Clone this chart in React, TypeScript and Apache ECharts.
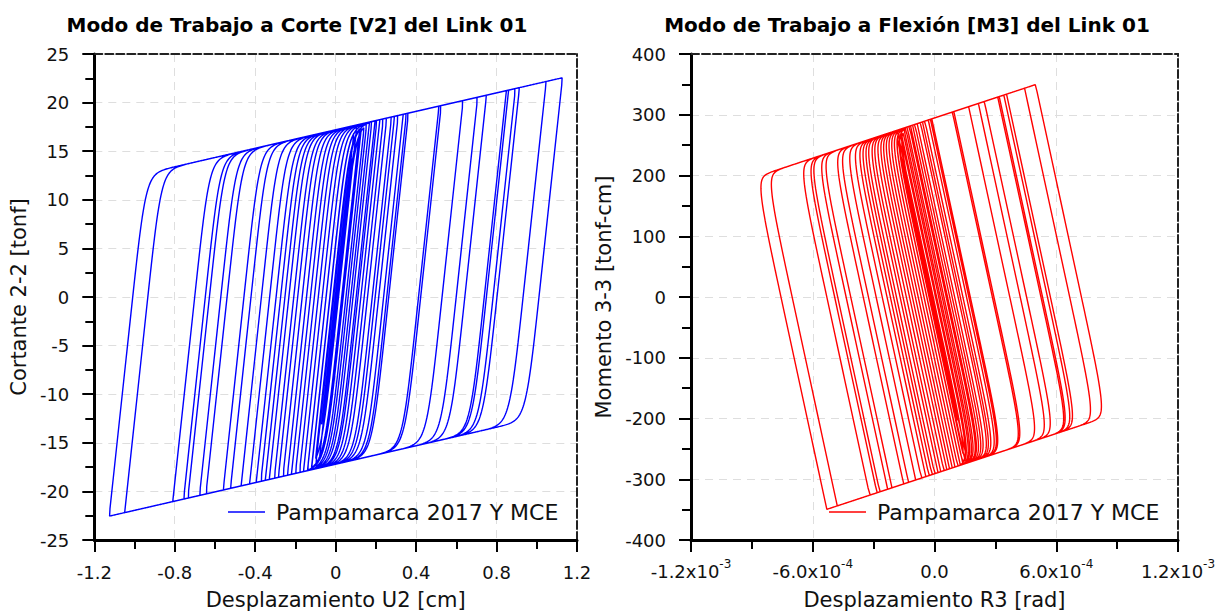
import React, { useEffect, useRef } from "react";
import * as echarts from "echarts";

// ---- Data (reversal points of the U2 history, cm) ----
// peaks (positive reversals) and valleys (negative reversals), in time order
const peakU = [
  0.068, 0.092, 0.118, 0.142, 0.168, 0.196, 0.22, 0.254, 0.293, 0.336, 0.362, 0.525,
  0.75, 0.914, 1.128, 1.047, 0.894, 0.86, 0.849, 0.706, 0.634, 0.514, 0.352, 0.311,
  0.278, 0.237, 0.205, 0.18, 0.155, 0.13, 0.105, 0.12, 0.09, 0.08, 0.06,
];
const valleyU = [
  -0.04, -0.06, -0.08, -0.1, -0.12, -0.14, -0.16, -0.2, -0.24, -0.285, -0.33, -0.395,
  -0.523, -0.81, -1.126, -1.049, -0.756, -0.735, -0.677, -0.645, -0.559, -0.47, -0.428,
  -0.372, -0.35, -0.305, -0.262, -0.22, -0.18, -0.14, -0.1, -0.12, -0.07, -0.05, -0.02,
];

// ---- Link properties ----
const SHEAR_YIELD = 17.2; // tonf (envelope intercept at U2 = 0)
const POST_YIELD_SLOPE = 4.75; // tonf/cm
const ELASTIC_SLOPE = 188; // tonf/cm
const SHARPNESS = 4;
const LINK_HALF_LENGTH = 15.5; // cm  (M3 = V2 * L/2)
const R3_PER_U2 = 7.33e-4; // rad/cm
const R3_PER_V2 = -1.383e-5; // rad/tonf
const R3_OFFSET = -1.7e-5; // rad

const SERIES_NAME = "Pampamarca 2017 Y MCE";
const leftXTicks = { min: -1.2, max: 1.2, interval: 0.4 };
const leftYTicks = { min: -25, max: 25, interval: 5 };
const rightXTicks = { min: -0.0012, max: 0.0012, interval: 0.0006 };
const rightYTicks = { min: -400, max: 400, interval: 100 };

const FONT = "DejaVu Sans";

function buildShearPath(): number[][] {
  const pts: number[][] = [[0, 0]];
  let u = 0;
  let z = 0;
  const targets: number[] = [];
  for (let i = 0; i < peakU.length; i++) {
    targets.push(peakU[i]);
    if (i < valleyU.length) targets.push(valleyU[i]);
  }
  for (const t of targets) {
    const dir = Math.sign(t - u);
    while (Math.abs(t - u) > 1e-9) {
      const du = dir * Math.min(0.004, Math.abs(t - u));
      const h = du / 8;
      for (let k = 0; k < 8; k++) {
        if (h * z > 0) {
          z += ELASTIC_SLOPE * (1 - Math.pow(Math.abs(z) / SHEAR_YIELD, SHARPNESS)) * h;
        } else {
          z += ELASTIC_SLOPE * h;
        }
        if (z > SHEAR_YIELD) z = SHEAR_YIELD;
        if (z < -SHEAR_YIELD) z = -SHEAR_YIELD;
      }
      u += du;
      pts.push([u, POST_YIELD_SLOPE * u + z]);
    }
  }
  return pts;
}

function makeOption(cfg: any) {
  const axisText = { fontFamily: FONT, fontSize: 18, color: "#111" };
  return {
    animation: false,
    title: {
      text: cfg.title,
      left: cfg.titleX,
      top: 15,
      padding: 0,
      textAlign: "center",
      textStyle: { fontFamily: FONT, fontSize: 20, fontWeight: "bold", color: "#000" },
    },
    legend: {
      data: [SERIES_NAME],
      left: cfg.legendX,
      top: 501,
      padding: 0,
      icon: "rect",
      itemWidth: 37,
      itemHeight: 1.6,
      textStyle: { fontFamily: FONT, fontSize: 22, color: "#111", padding: [0, 0, 0, 6] },
    },
    grid: { left: cfg.gridLeft, top: 54, width: 487, height: 487 },
    xAxis: [
      {
        type: "value",
        position: "bottom",
        min: cfg.xTicks.min,
        max: cfg.xTicks.max,
        interval: cfg.xTicks.interval,
        name: cfg.xName,
        nameLocation: "middle",
        nameGap: 49,
        nameTextStyle: { fontFamily: FONT, fontSize: 21, color: "#111" },
        axisLine: { show: true, onZero: false, lineStyle: { color: "#000", width: 3 } },
        axisTick: { show: true, length: 12, lineStyle: { color: "#000", width: 2 } },
        minorTick: { show: true, splitNumber: 2, length: 9, lineStyle: { color: "#000", width: 2 } },
        axisLabel: { ...axisText, margin: cfg.xLabelMargin, formatter: cfg.xFormatter, rich: cfg.xRich },
        splitLine: { show: true, lineStyle: { color: "#dedede", width: 1, type: [8, 6] } },
      },
      {
        type: "value",
        position: "top",
        min: cfg.xTicks.min,
        max: cfg.xTicks.max,
        interval: cfg.xTicks.interval,
        axisLine: { show: true, onZero: false, lineStyle: { color: "#222", width: 2, type: [8, 3] } },
        axisTick: { show: false },
        axisLabel: { show: false },
        splitLine: { show: false },
      },
    ],
    yAxis: [
      {
        type: "value",
        position: "left",
        min: cfg.yTicks.min,
        max: cfg.yTicks.max,
        interval: cfg.yTicks.interval,
        name: cfg.yName,
        nameLocation: "middle",
        nameGap: cfg.yNameGap,
        nameTextStyle: { fontFamily: FONT, fontSize: 21, color: "#111" },
        axisLine: { show: true, onZero: false, lineStyle: { color: "#000", width: 3 } },
        axisTick: { show: true, length: 12, lineStyle: { color: "#000", width: 2 } },
        minorTick: { show: true, splitNumber: 2, length: 9, lineStyle: { color: "#000", width: 2 } },
        axisLabel: { ...axisText, margin: 25, formatter: (v: number) => String(Math.round(v)) },
        splitLine: { show: true, lineStyle: { color: "#dedede", width: 1, type: [8, 6] } },
      },
      {
        type: "value",
        position: "right",
        min: cfg.yTicks.min,
        max: cfg.yTicks.max,
        interval: cfg.yTicks.interval,
        axisLine: { show: true, onZero: false, lineStyle: { color: "#222", width: 2, type: [8, 3] } },
        axisTick: { show: false },
        axisLabel: { show: false },
        splitLine: { show: false },
      },
    ],
    series: [
      {
        name: SERIES_NAME,
        type: "line",
        data: cfg.data,
        showSymbol: false,
        symbol: "none",
        clip: true,
        color: cfg.color,
        lineStyle: { color: cfg.color, width: 1.4 },
        itemStyle: { color: cfg.color },
      },
    ],
  };
}

export default function App() {
  const leftRef = useRef<HTMLDivElement>(null);
  const rightRef = useRef<HTMLDivElement>(null);

  useEffect(() => {
    const shear = buildShearPath();
    const moment = shear.map(([u, v]) => [
      R3_PER_U2 * u + R3_PER_V2 * v + R3_OFFSET,
      LINK_HALF_LENGTH * v,
    ]);

    const c1 = echarts.init(leftRef.current!, null, { renderer: "svg" });
    c1.setOption(
      makeOption({
        title: "Modo de Trabajo a Corte [V2] del Link 01",
        titleX: 297,
        legendX: 228,
        gridLeft: 90,
        xTicks: leftXTicks,
        yTicks: leftYTicks,
        xName: "Desplazamiento U2 [cm]",
        yName: "Cortante 2-2 [tonf]",
        yNameGap: 56,
        xLabelMargin: 23,
        xFormatter: (v: number) => {
          const r = Math.round(v * 10) / 10;
          return r === 0 ? "0" : String(r);
        },
        data: shear,
        color: "#0000ff",
      })
    );

    const c2 = echarts.init(rightRef.current!, null, { renderer: "svg" });
    c2.setOption(
      makeOption({
        title: "Modo de Trabajo a Flexión [M3] del Link 01",
        titleX: 907 - 585,
        legendX: 829 - 585,
        gridLeft: 691 - 585,
        xTicks: rightXTicks,
        yTicks: rightYTicks,
        xName: "Desplazamiento R3 [rad]",
        yName: "Momento 3-3 [tonf-cm]",
        yNameGap: 64,
        xLabelMargin: 18,
        xFormatter: (v: number) => {
          if (Math.abs(v) < 1e-12) return "{b|0.0}";
          const e = Math.floor(Math.log10(Math.abs(v)) + 1e-9);
          const m = v / Math.pow(10, e);
          return `{b|${m.toFixed(1)}x10}{s|${e}}`;
        },
        xRich: {
          b: { fontFamily: FONT, fontSize: 18, color: "#111", lineHeight: 20, padding: [7, 0, 0, 0] },
          s: { fontFamily: FONT, fontSize: 12, color: "#111", lineHeight: 14, verticalAlign: "top" },
        },
        data: moment,
        color: "#ff0000",
      })
    );

    return () => {
      c1.dispose();
      c2.dispose();
    };
  }, []);

  return (
    <div style={{ position: "absolute", left: 0, top: 0, width: 1225, height: 615, background: "#fff" }}>
      <div ref={leftRef} style={{ position: "absolute", left: 0, top: 0, width: 612, height: 615 }} />
      <div ref={rightRef} style={{ position: "absolute", left: 585, top: 0, width: 640, height: 615 }} />
    </div>
  );
}
